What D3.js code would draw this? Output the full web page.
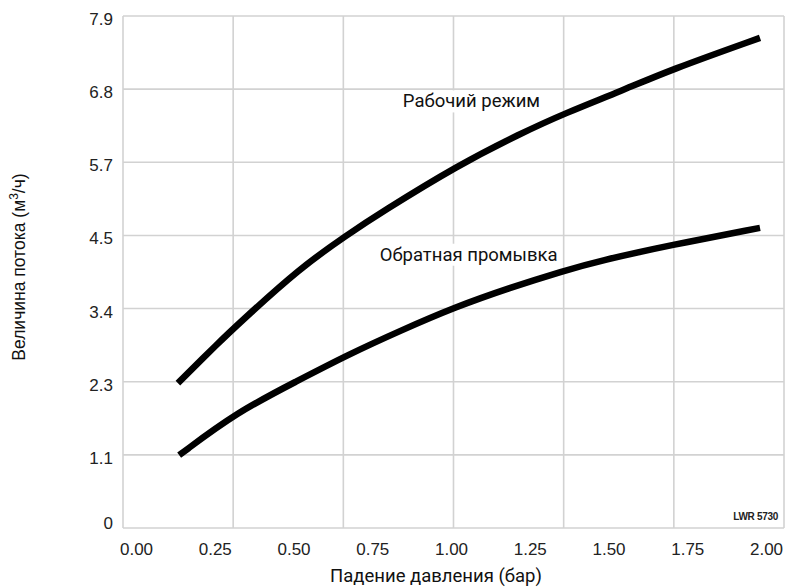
<!DOCTYPE html>
<html>
<head>
<meta charset="utf-8">
<script src="https://cdn.jsdelivr.net/npm/d3@7"></script>
<style>
  html, body { margin: 0; padding: 0; background: #fff; }
  svg { display: block; }
</style>
</head>
<body>
<svg id="chart" width="787" height="588"></svg>
<script>
// ---- data ----
const xTickValues = [0, 0.25, 0.5, 0.75, 1.0, 1.25, 1.5, 1.75, 2.0];
const xTickLabels = ["0.00", "0.25", "0.50", "0.75", "1.00", "1.25", "1.50", "1.75", "2.00"];
const yTickValues = [0, 1.136, 2.271, 3.407, 4.542, 5.678, 6.814, 7.949];
const yTickLabels = ["0", "1.1", "2.3", "3.4", "4.5", "5.7", "6.8", "7.9"];
const gridColumns = [0, 1, 2, 3, 4, 5, 6];

// Рабочий режим (service flow), bar vs m3/h
const serviceX = [0.133, 0.267, 0.321, 0.521, 0.673, 0.775, 1.025, 1.219, 1.362, 1.543, 1.695, 1.981];
const serviceY = [2.25, 2.90, 3.15, 4.04, 4.56, 4.89, 5.64, 6.12, 6.44, 6.79, 7.11, 7.61];
// Обратная промывка (backwash)
const backwashX = [0.137, 0.321, 0.511, 0.673, 0.838, 1.013, 1.187, 1.356, 1.473, 1.695, 1.981];
const backwashY = [1.13, 1.80, 2.28, 2.69, 3.06, 3.43, 3.73, 3.99, 4.15, 4.39, 4.66];

const seriesLabels = ["Рабочий режим", "Обратная промывка"];
const labelPos = [[1.065, 6.63], [1.056, 4.25]];

// ---- layout ----
const plotLeft = 123, plotRight = 784, plotTop = 16, plotBottom = 528;
const svg = d3.select("#chart");

const x = d3.scaleLinear().domain([0, 2]).range([136, 766]);
const y = d3.scaleLinear().domain([0, 7.949]).range([plotBottom, plotTop]);
const gx = d3.scaleLinear().domain([0, 6]).range([plotLeft, plotRight]);

const gridColor = "#d2d2d2";

// horizontal gridlines
svg.append("g").selectAll("line").data(yTickValues).join("line")
  .attr("x1", plotLeft).attr("x2", plotRight)
  .attr("y1", d => y(d)).attr("y2", d => y(d))
  .attr("stroke", gridColor).attr("stroke-width", 1.6);

// vertical gridlines
svg.append("g").selectAll("line").data(gridColumns).join("line")
  .attr("x1", d => gx(d)).attr("x2", d => gx(d))
  .attr("y1", plotTop).attr("y2", plotBottom)
  .attr("stroke", gridColor).attr("stroke-width", 1.6);

// y axis labels
const yAxis = d3.axisLeft(y).tickValues(yTickValues)
  .tickFormat((d, i) => yTickLabels[i]).tickSize(0).tickPadding(0);
const yg = svg.append("g").attr("transform", `translate(113,0)`).call(yAxis);
yg.select(".domain").remove();
yg.selectAll("text")
  .attr("font-family", "'Liberation Sans', Arial, sans-serif")
  .attr("font-size", 17).attr("fill", "#222")
  .attr("dy", (d, i) => i === 0 ? "0.05em" : "0.5em");

// x axis labels
const xAxis = d3.axisBottom(x).tickValues(xTickValues)
  .tickFormat((d, i) => xTickLabels[i]).tickSize(0).tickPadding(0);
const xg = svg.append("g").attr("transform", `translate(0,543)`).call(xAxis);
xg.select(".domain").remove();
xg.selectAll("text")
  .attr("font-family", "'Liberation Sans', Arial, sans-serif")
  .attr("font-size", 17).attr("fill", "#222").attr("dy", "0.71em");

// curves
const line = d3.line().x(d => x(d[0])).y(d => y(d[1])).curve(d3.curveBasis);
const series = [
  d3.zip(serviceX, serviceY),
  d3.zip(backwashX, backwashY)
];
svg.append("g").selectAll("path").data(series).join("path")
  .attr("d", line)
  .attr("fill", "none").attr("stroke", "#000")
  .attr("stroke-width", 6.5).attr("stroke-linecap", "butt");

// curve labels with white background
const lg = svg.append("g");
seriesLabels.forEach((t, i) => {
  const g = lg.append("g");
  const txt = g.append("text")
    .attr("x", x(labelPos[i][0])).attr("y", y(labelPos[i][1]))
    .attr("text-anchor", "middle").attr("dy", "0.35em")
    .attr("font-family", "Roboto, 'Noto Sans', sans-serif")
    .attr("font-size", 18.5).attr("fill", "#111")
    .text(t);
  const bb = txt.node().getBBox();
  g.insert("rect", "text")
    .attr("x", bb.x - 3).attr("y", bb.y)
    .attr("width", bb.width + 6).attr("height", bb.height)
    .attr("fill", "#fff");
});

// axis titles
svg.append("text")
  .attr("x", 436).attr("y", 582).attr("text-anchor", "middle")
  .attr("font-family", "Roboto, 'Noto Sans', sans-serif")
  .attr("font-size", 18.5).attr("fill", "#111")
  .text("Падение давления (бар)");

const yt = svg.append("text")
  .attr("transform", "translate(25,267) rotate(-90)")
  .attr("text-anchor", "middle")
  .attr("font-family", "'Liberation Sans', Arial, sans-serif")
  .attr("font-size", 17.5).attr("fill", "#111");
yt.append("tspan").text("Величина потока (м");
yt.append("tspan").attr("font-size", 12).attr("dy", "-0.6em").text("3");
yt.append("tspan").attr("dy", "0.4em").text("/ч)");

// code label
svg.append("text")
  .attr("x", 778).attr("y", 520).attr("text-anchor", "end")
  .attr("font-family", "'Liberation Sans', Arial, sans-serif")
  .attr("font-size", 10).attr("font-weight", "bold")
  .attr("letter-spacing", -0.3).attr("fill", "#222")
  .text("LWR 5730");
</script>
</body>
</html>
